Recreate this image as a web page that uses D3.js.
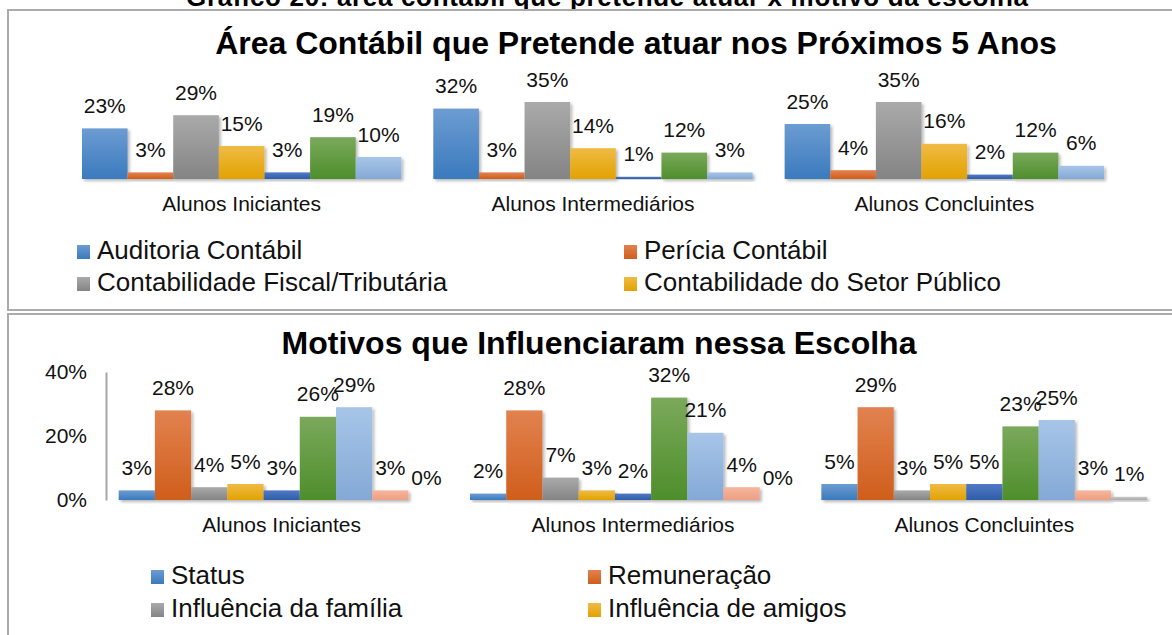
<!DOCTYPE html>
<html>
<head>
<meta charset="utf-8">
<script src="https://cdn.jsdelivr.net/npm/d3@7"></script>
<style>
  body { margin: 0; background: #fff; }
  svg { display: block; font-family: "Liberation Sans", Arial, sans-serif; }
</style>
</head>
<body>
<svg id="chart" width="1172" height="635"></svg>
<script>
// categorias (eixo x dos dois gráficos)
var grupos = ["Alunos Iniciantes", "Alunos Intermediários", "Alunos Concluintes"];

// gráfico 1 - área contábil (só as 4 primeiras séries aparecem na legenda visível)
var areas = ["Auditoria Contábil", "Perícia Contábil", "Contabilidade Fiscal/Tributária", "Contabilidade do Setor Público", null, null, null];
var areaIniciantes     = [0.23, 0.03, 0.29, 0.15, 0.03, 0.19, 0.10];
var areaIntermediarios = [0.32, 0.03, 0.35, 0.14, 0.01, 0.12, 0.03];
var areaConcluintes    = [0.25, 0.04, 0.35, 0.16, 0.02, 0.12, 0.06];

// gráfico 2 - motivos
var motivos = ["Status", "Remuneração", "Influência da família", "Influência de amigos", null, null, null, null, null];
var motivoIniciantes     = [0.03, 0.28, 0.04, 0.05, 0.03, 0.26, 0.29, 0.03, 0.00];
var motivoIntermediarios = [0.02, 0.28, 0.07, 0.03, 0.02, 0.32, 0.21, 0.04, 0.00];
var motivoConcluintes    = [0.05, 0.29, 0.03, 0.05, 0.05, 0.23, 0.25, 0.03, 0.01];
var motivoTicks = [0, 0.2, 0.4];

// cores das séries (topo, base) - gradiente estilo Excel
var cores = [
  ["#6c9cd2", "#3a7abd"],
  ["#e2824f", "#cf5e1b"],
  ["#aaaaaa", "#848484"],
  ["#efbb45", "#e2a200"],
  ["#5079c6", "#2f5da8"],
  ["#7aa95b", "#4e8e2b"],
  ["#a7c5e8", "#84a9d6"],
  ["#f6b69c", "#ee9f83"],
  ["#c9c9c9", "#a9a9a9"]
];

var svg = d3.select("#chart");
var defs = svg.append("defs");

cores.forEach(function(c, i) {
  var g = defs.append("linearGradient")
    .attr("id", "grad" + i)
    .attr("x1", 0).attr("y1", 0).attr("x2", 0).attr("y2", 1);
  g.append("stop").attr("offset", "0%").attr("stop-color", c[0]);
  g.append("stop").attr("offset", "100%").attr("stop-color", c[1]);
});

defs.append("filter").attr("id", "sombra")
  .attr("x", "-20%").attr("y", "-20%").attr("width", "160%").attr("height", "160%")
  .append("feDropShadow")
  .attr("dx", 2).attr("dy", 2).attr("stdDeviation", 1.6)
  .attr("flood-color", "#000").attr("flood-opacity", 0.28);

// título do documento (cortado no topo, como no original)
svg.append("text")
  .attr("x", 607).attr("y", 6)
  .attr("text-anchor", "middle")
  .attr("font-size", 26).attr("font-weight", "bold")
  .attr("textLength", 842)
  .text("Gráfico 20: área contábil que pretende atuar x motivo da escolha");

// molduras
svg.append("rect").attr("x", 8).attr("y", 10).attr("width", 1200).attr("height", 300)
  .attr("fill", "none").attr("stroke", "#ababab").attr("stroke-width", 2);
svg.append("rect").attr("x", 8).attr("y", 314).attr("width", 1200).attr("height", 400)
  .attr("fill", "none").attr("stroke", "#ababab").attr("stroke-width", 2);

var pct = d3.format(".0%");

function desenha(cfg) {
  var linhas = cfg.valores.map(function(v, i) { return { cat: grupos[i], vals: v }; });

  var x0 = d3.scaleBand().domain(grupos).range(cfg.xRange).padding(0);
  var x1 = d3.scaleBand().domain(d3.range(cfg.nomes.length))
    .range([0, x0.bandwidth()]).paddingInner(0).paddingOuter(0.35);
  var y = d3.scaleLinear().domain([0, 0.4]).range(cfg.yRange);

  // título
  svg.append("text")
    .attr("x", cfg.titulo.x).attr("y", cfg.titulo.y)
    .attr("text-anchor", "middle")
    .attr("font-size", 32).attr("font-weight", "bold")
    .attr("fill", "#000")
    .text(cfg.titulo.texto);

  // eixo y (só no segundo gráfico)
  if (cfg.ticks) {
    var ay = svg.append("g")
      .attr("transform", "translate(" + cfg.xRange[0] + ",0)")
      .call(d3.axisLeft(y).tickValues(cfg.ticks).tickFormat(pct).tickSize(0).tickPadding(19));
    ay.select(".domain").attr("stroke", "#a6a6a6").attr("stroke-width", 2);
    ay.selectAll("text").attr("font-size", 21).attr("fill", "#111")
      .attr("font-family", "Liberation Sans, Arial, sans-serif");
  }

  var grp = svg.append("g").selectAll("g")
    .data(linhas)
    .enter()
    .append("g")
    .attr("transform", function(d) { return "translate(" + x0(d.cat) + ",0)"; });

  grp.selectAll("rect")
    .data(function(d) { return d.vals; })
    .enter()
    .append("rect")
    .attr("x", function(d, i) { return x1(i); })
    .attr("y", function(d) { return y(d); })
    .attr("width", x1.bandwidth())
    .attr("height", function(d) { return y(0) - y(d); })
    .attr("fill", function(d, i) { return "url(#grad" + i + ")"; })
    .attr("filter", "url(#sombra)");

  grp.selectAll("text")
    .data(function(d) { return d.vals; })
    .enter()
    .append("text")
    .attr("x", function(d, i) { return x1(i) + x1.bandwidth() / 2; })
    .attr("y", function(d) { return y(d) - 15.5; })
    .attr("text-anchor", "middle")
    .attr("font-size", 21)
    .attr("fill", "#111")
    .text(function(d) { return pct(d); });

  // eixo x
  var ax = svg.append("g")
    .attr("transform", "translate(0," + cfg.yRange[0] + ")")
    .call(d3.axisBottom(x0).tickSize(0).tickPadding(17));
  ax.select(".domain").attr("stroke", "#a6a6a6").attr("stroke-width", 2).attr("filter", "url(#sombra)");
  ax.selectAll("text").attr("font-size", 21).attr("fill", "#111")
    .attr("font-family", "Liberation Sans, Arial, sans-serif");

  // legenda em duas colunas
  var itens = cfg.nomes.map(function(n, i) { return { nome: n, i: i }; })
    .filter(function(d) { return d.nome; });
  var leg = svg.append("g").selectAll("g")
    .data(itens)
    .enter()
    .append("g")
    .attr("transform", function(d, k) {
      return "translate(" + cfg.leg.cols[k % 2] + "," + (cfg.leg.y0 + Math.floor(k / 2) * cfg.leg.dy) + ")";
    });
  leg.append("rect")
    .attr("x", 0).attr("y", -14).attr("width", 13).attr("height", 14)
    .attr("fill", function(d) { return "url(#grad" + d.i + ")"; });
  leg.append("text")
    .attr("x", 20).attr("y", 0)
    .attr("font-size", 26)
    .attr("fill", "#111")
    .text(function(d) { return d.nome; });
}

desenha({
  nomes: areas,
  valores: [areaIniciantes, areaIntermediarios, areaConcluintes],
  xRange: [66, 1120],
  yRange: [179, 91],
  titulo: { texto: "Área Contábil que Pretende atuar nos Próximos 5 Anos", x: 636, y: 54 },
  leg: { cols: [77, 624], y0: 259, dy: 32 }
});

desenha({
  nomes: motivos,
  valores: [motivoIniciantes, motivoIntermediarios, motivoConcluintes],
  xRange: [106, 1160],
  yRange: [500, 372],
  ticks: motivoTicks,
  titulo: { texto: "Motivos que Influenciaram nessa Escolha", x: 599, y: 354 },
  leg: { cols: [151, 588], y0: 584, dy: 33 }
});
</script>
</body>
</html>
